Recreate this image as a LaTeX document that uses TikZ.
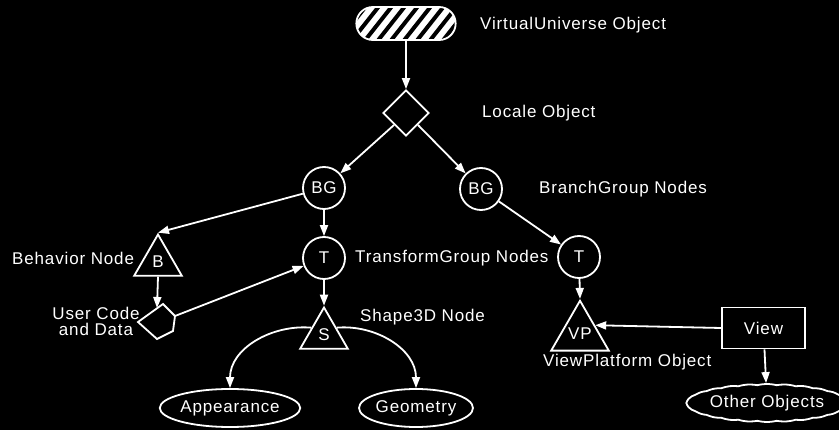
\documentclass[tikz,border=0pt]{standalone}
\usepackage{fontspec}
\setmainfont[LetterSpace=5]{Liberation Sans}
\usetikzlibrary{arrows.meta, shapes.geometric, shapes.misc, shapes.symbols}

\begin{document}
\begin{tikzpicture}[
  x=1pt, y=-1pt,
  every node/.style={text=white, font=\fontsize{17}{16}\selectfont},
  circ/.style={draw=white, circle, line width=1.8pt, minimum size=42pt, inner sep=0pt},
  tri/.style={draw=white, regular polygon, regular polygon sides=3, line width=1.8pt, minimum size=55pt, inner sep=0pt},
  oval/.style={draw=white, ellipse, line width=1.8pt, minimum width=124pt, minimum height=38pt, inner sep=0pt},
  lbl/.style={anchor=west, inner sep=0pt},
  arr/.style={-{Triangle[length=11pt, width=8pt]}, white, line width=1.8pt},
  vustyle/.style={draw=white, fill=white, rounded rectangle, line width=1.8pt, minimum width=106pt, minimum height=33pt,
    path picture={\foreach \s in {-30,-17,...,110} \draw[black, line width=4pt] ([xshift=\s pt]path picture bounding box.south west) -- ++(30,-38);}}
]
% Background
\path[use as bounding box, fill=black] (0,0) rectangle (839,430);

% Nodes
\node[vustyle] (vu) at (406,23.5) {};
\node[draw=white, diamond, line width=1.8pt, minimum width=46pt, minimum height=46pt, inner sep=0pt] (loc) at (406,113) {};
\node[circ] (bgl) at (324,188) {BG};
\node[circ] (bgr) at (481,189) {BG};
\node[circ] (tl) at (324,258) {T};
\node[circ] (tr) at (579,257) {T};
\node[tri] (b) at (158,262) {B};
\node[tri] (s) at (324,335) {S};
\node[tri] (vp) at (580,334) {VP};
\node[draw=white, line width=1.8pt, minimum width=83pt, minimum height=41pt, inner sep=0pt] (view) at (763.5,328) {View};
\node[oval] (app) at (230,408) {Appearance};
\node[oval, minimum width=110pt] (geo) at (416,408) {Geometry};
\node[draw=white, cloud, cloud puffs=26, cloud puff arc=28, cloud ignores aspect, line width=1.8pt,
  minimum width=138pt, minimum height=38pt, inner sep=0pt] (other) at (767,403) {Other Objects};

% User code and data (drawn shape)
\draw[white, line width=1.8pt] (138,322) -- (163,304) -- (175,316) -- (173,331) -- (157,339) -- cycle;
\coordinate (ucdtop) at (157,308);
\coordinate (ucdright) at (175,316);

% Labels
\node[lbl] (vulbl) at (480,25) {VirtualUniverse Object};
\node[lbl] (loclbl) at (482,113) {Locale Object};
\node[lbl] (bglbl) at (539,189) {BranchGroup Nodes};
\node[lbl] (tlbl) at (355,258) {TransformGroup Nodes};
\node[lbl] (blbl) at (12,258) {Behavior Node};
\node[inner sep=0pt, align=center] (ucdlbl) at (96,321) {User Code\\and Data};
\node[lbl] (slbl) at (360,317) {Shape3D Node};
\node[lbl] (vplbl) at (543,362) {ViewPlatform Object};

% Connectors
\draw[arr] (vu) -- (loc);
\draw[arr] (loc.south west) -- (bgl);
\draw[arr] (loc.south east) -- (bgr);
\draw[arr] (bgl) -- (tl);
\draw[arr] (bgl) -- (b.corner 1);
\draw[arr] (b.side 2) -- (ucdtop);
\draw[arr] (ucdright) -- (tl);
\draw[arr] (tl) -- (s.corner 1);
\draw[arr] (bgr) -- (tr);
\draw[arr] (tr) -- (vp.corner 1);
\draw[arr] (view.west) -- (vp.side 3);
\draw[arr] (view) -- (other);
\draw[arr] (s.side 1) to[out=175, in=90] (app.north);
\draw[arr] (s.side 3) to[out=5, in=90] (geo.north);
\end{tikzpicture}
\end{document}
